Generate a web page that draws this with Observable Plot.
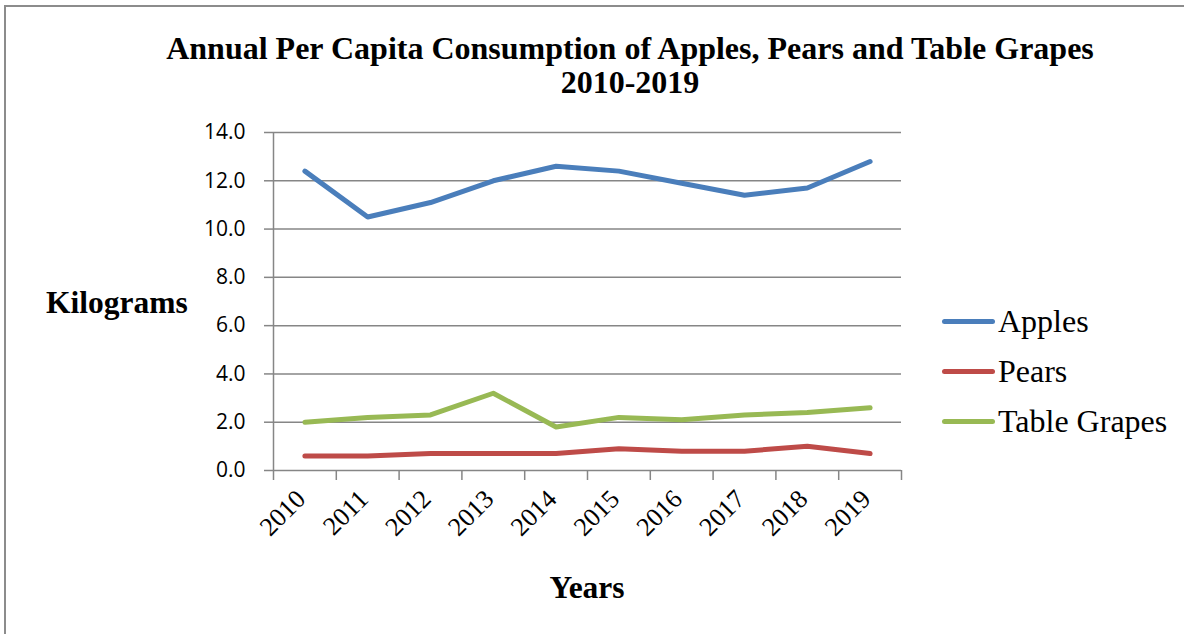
<!DOCTYPE html>
<html>
<head>
<meta charset="utf-8">
<script src="https://cdn.jsdelivr.net/npm/d3@7"></script>
<script src="https://cdn.jsdelivr.net/npm/@observablehq/plot@0.6"></script>
<style>
  body { margin: 0; background: #fff; }
  #wrap { position: relative; width: 1184px; height: 634px; overflow: hidden; background: #fff;
          font-family: "Liberation Serif", "Times New Roman", serif; color: #000; }
  #frame { position: absolute; left: 4px; top: 5px; width: 1300px; height: 800px;
           border: 2px solid #8c8c8c; box-sizing: border-box; }
  #chart { position: absolute; left: 0; top: 0; }
  .t { position: absolute; font-weight: bold; font-size: 31.5px; line-height: 31.5px; white-space: nowrap; }
  #title { left: 130px; width: 1000px; top: 31px; text-align: center; font-size: 32px; line-height: 34px; }
  #ylab { left: 46px; top: 287px; }
  #xlab { left: 487px; width: 200px; text-align: center; top: 572px; }
  .leg { position: absolute; left: 942px; height: 32px; display: flex; align-items: center; }
  .leg .sw { width: 53px; height: 5px; border-radius: 3px; margin-right: 3px; }
  .leg .lt { font-size: 32px; line-height: 32px; white-space: nowrap; }
</style>
</head>
<body>
<div id="wrap">
  <div id="frame"></div>
  <div id="chart"></div>
  <div id="title" class="t"></div>
  <div id="ylab" class="t"></div>
  <div id="xlab" class="t"></div>
  <div id="legend"></div>
</div>
<script>
const titleLines = ["Annual Per Capita Consumption of Apples, Pears and Table Grapes", "2010-2019"];
const yLabel = "Kilograms";
const xLabel = "Years";
const years = [2010, 2011, 2012, 2013, 2014, 2015, 2016, 2017, 2018, 2019];
const seriesNames = ["Apples", "Pears", "Table Grapes"];
const seriesColors = ["#4a7ebb", "#be4b48", "#98b954"];
const apples = [12.4, 10.5, 11.1, 12.0, 12.6, 12.4, 11.9, 11.4, 11.7, 12.8];
const pears = [0.6, 0.6, 0.7, 0.7, 0.7, 0.9, 0.8, 0.8, 1.0, 0.7];
const grapes = [2.0, 2.2, 2.3, 3.2, 1.8, 2.2, 2.1, 2.3, 2.4, 2.6];
const yTicks = [0, 2, 4, 6, 8, 10, 12, 14];

const seriesValues = [apples, pears, grapes];
const data = seriesNames.flatMap((name, s) =>
  years.map((yr, i) => ({series: name, year: yr, value: seriesValues[s][i]})));
const bounds = [...years.map(y => y - 0.5), years[years.length - 1] + 0.5];

const grid = "#868686";
const chart = Plot.plot({
  width: 1184,
  height: 634,
  marginLeft: 273,
  marginRight: 283,
  marginTop: 132,
  marginBottom: 164,
  style: {background: "transparent", overflow: "visible"},
  x: {type: "linear", domain: [bounds[0], bounds[bounds.length - 1]]},
  y: {domain: [0, 14]},
  color: {domain: seriesNames, range: seriesColors},
  marks: [
    Plot.ruleY(yTicks, {stroke: grid, strokeWidth: 1.5}),
    Plot.axisY({ticks: yTicks, tickFormat: d3.format(".1f"), tickSize: 9, tickPadding: 19,
                stroke: grid, strokeWidth: 1.5, fontSize: 21,
                fontFamily: "Open Sans", label: null}),
    Plot.axisX({ticks: bounds, tickSize: 10, tickFormat: () => "", stroke: grid, strokeWidth: 1.5, label: null}),
    Plot.ruleX([bounds[0]], {y1: 0, y2: 14, stroke: grid, strokeWidth: 1.5}),
    Plot.text(years, {x: d => d, frameAnchor: "bottom", text: d => String(d), rotate: -45,
                      textAnchor: "end", dx: 2, dy: 30, fontSize: 26,
                      fontFamily: "Liberation Serif", fill: "#000"}),
    Plot.line(data, {x: "year", y: "value", z: "series", stroke: "series", strokeWidth: 5,
                     strokeLinecap: "round", strokeLinejoin: "round"})
  ]
});
document.getElementById("chart").appendChild(chart);

document.getElementById("title").innerHTML = titleLines.join("<br>");
document.getElementById("ylab").textContent = yLabel;
document.getElementById("xlab").textContent = xLabel;

const legend = document.getElementById("legend");
const legTops = [305, 355, 405];
seriesNames.forEach((name, i) => {
  const row = document.createElement("div");
  row.className = "leg";
  row.style.top = legTops[i] + "px";
  const sw = document.createElement("div");
  sw.className = "sw";
  sw.style.background = seriesColors[i];
  const lt = document.createElement("div");
  lt.className = "lt";
  lt.textContent = name;
  row.appendChild(sw);
  row.appendChild(lt);
  legend.appendChild(row);
});
</script>
</body>
</html>
